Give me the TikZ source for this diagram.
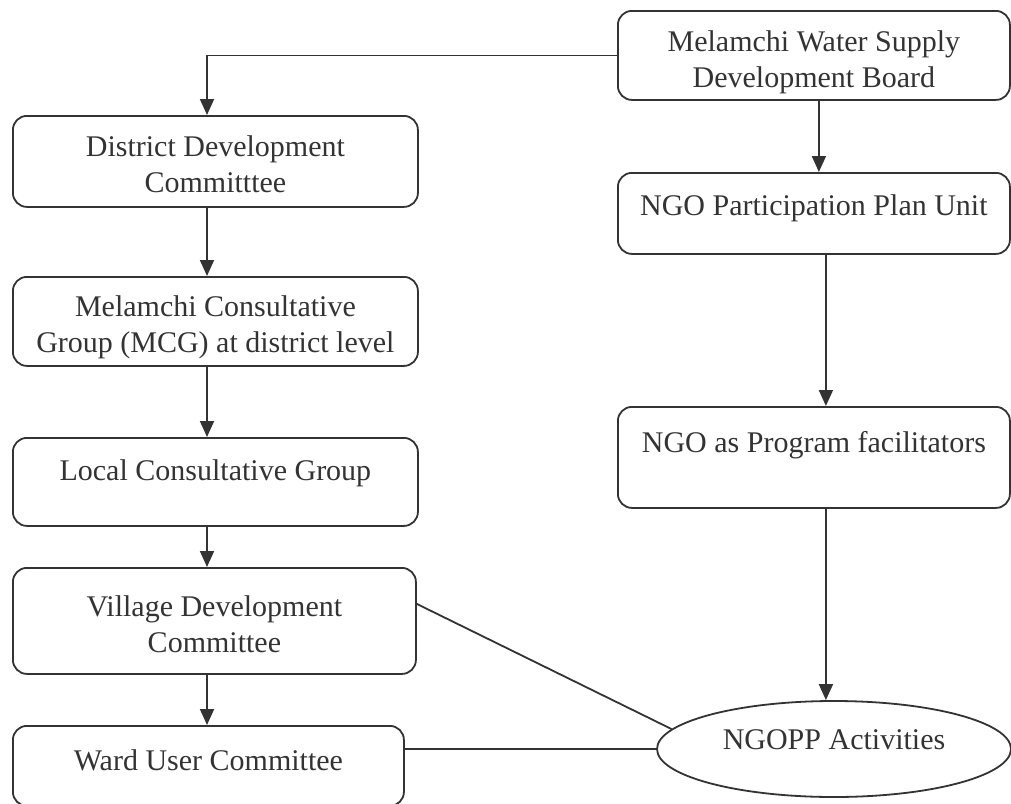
\documentclass[tikz,border=0pt]{standalone}
\usepackage{fontspec}
\setmainfont{Liberation Serif}
\usetikzlibrary{arrows.meta}
\usetikzlibrary{shapes.geometric}
\definecolor{ink}{HTML}{333333}

\tikzset{
  panel/.style={draw=ink, line width=1.8pt, rounded corners=14pt, anchor=north west,
    inner xsep=0pt, inner ysep=0pt, align=center, text=ink,
    font=\fontsize{30}{36}\selectfont},
  conn/.style={draw=ink, line width=1.8pt, -{Triangle[length=16pt,width=14pt]}},
  link/.style={draw=ink, line width=1.8pt}
}

\begin{document}
\begin{tikzpicture}[x=1pt, y=-1pt]
    \useasboundingbox (0,0) rectangle (1011,803);
    \coordinate (spine) at (207,0);
    % left column
    \node[panel, minimum width=405pt, text height=77pt, text depth=14pt] (ddc) at (12,115) {District Development\\Committtee};
    \node[panel, minimum width=405pt, text height=76pt, text depth=13pt] (mcg) at (12,276) {Melamchi Consultative\\Group (MCG) at district level};
    \node[panel, minimum width=405pt, text height=43pt, text depth=45pt] (lcg) at (12,437) {Local Consultative Group};
    \node[panel, minimum width=403pt, text height=85pt, text depth=21pt] (vdc) at (12,567) {Village Development\\Committee};
    \node[panel, minimum width=391pt, text height=45pt, text depth=35pt] (ward) at (12,725) {Ward User Committee};
    % right column
    \node[panel, minimum width=392pt, text height=77pt, text depth=12pt] (mwsdb) at (617,10) {Melamchi Water Supply\\Development Board};
    \node[panel, minimum width=392pt, text height=43pt, text depth=38pt] (ngopu) at (617,172) {NGO Participation Plan Unit};
    \node[panel, minimum width=392pt, text height=46pt, text depth=55pt] (fac) at (617,406) {NGO as Program facilitators};
    \node[draw=ink, line width=1.8pt, ellipse, minimum width=354pt, minimum height=96pt, inner sep=0pt,
          text=ink, font=\fontsize{30}{36}\selectfont, text height=22pt, text depth=22pt] (act) at (834,749) {NGOPP Activities};

    \draw[conn] (mwsdb.west) -| (ddc.north -| spine);
    \draw[conn] (ddc.south -| spine) -- (mcg.north -| spine);
    \draw[conn] (mcg.south -| spine) -- (lcg.north -| spine);
    \draw[conn] (lcg.south -| spine) -- (vdc.north -| spine);
    \draw[conn] (vdc.south -| spine) -- (ward.north -| spine);

    \draw[conn] ([xshift=5pt]mwsdb.south) -- ([xshift=5pt]mwsdb.south |- ngopu.north);
    \draw[conn] ([xshift=12pt]ngopu.south) -- ([xshift=12pt]ngopu.south |- fac.north);
    \draw[conn] ([xshift=12pt]fac.south) -- ([xshift=12pt]fac.south |- act.north);

    \draw[link] ([yshift=17pt]vdc.east) -- (act.173);
    \draw[link] (ward.east |- act.west) -- (act.west);
\end{tikzpicture}
\end{document}
